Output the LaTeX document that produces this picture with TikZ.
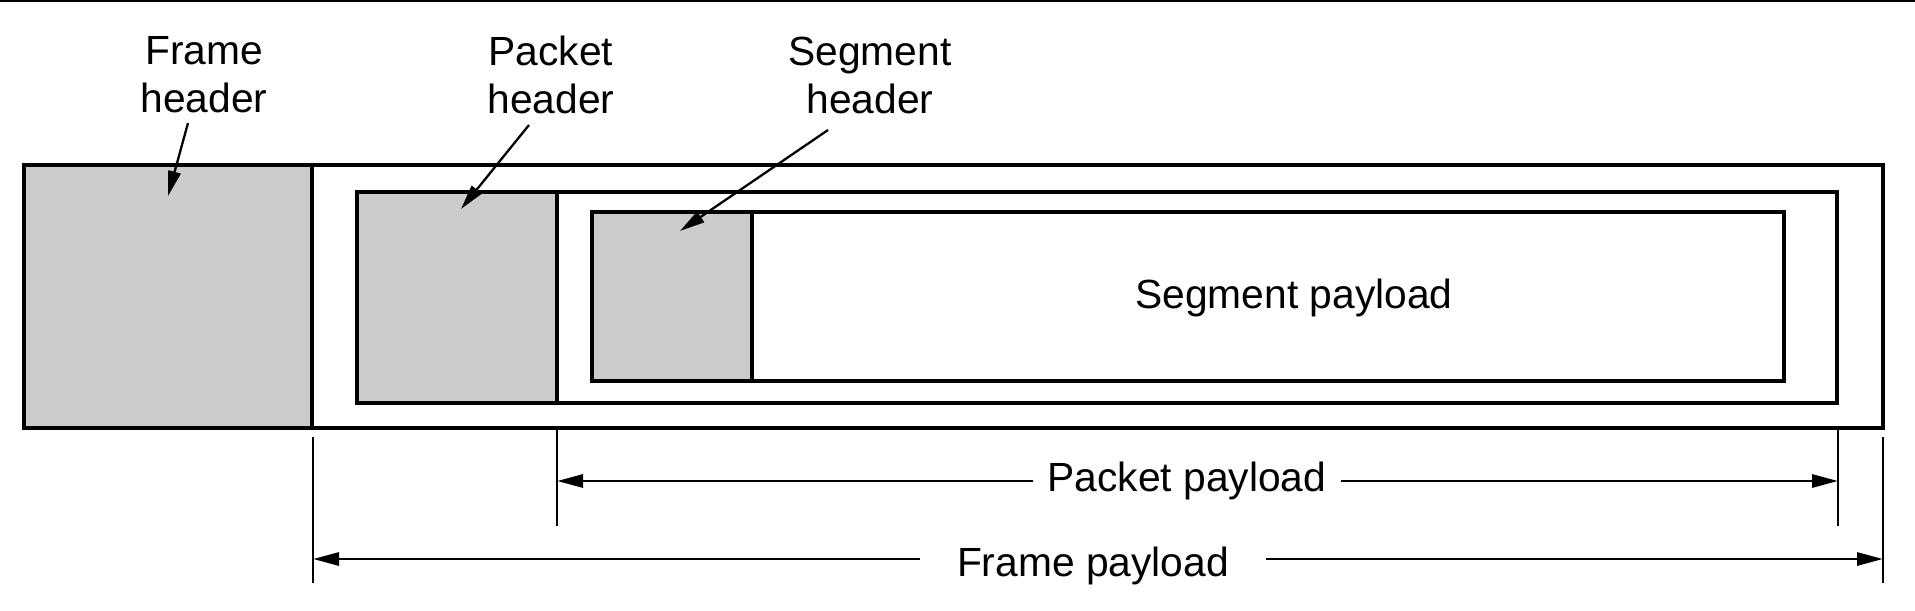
\documentclass[tikz,border=0pt]{standalone}
\usepackage{fontspec}
\setmainfont{Liberation Sans}
\usetikzlibrary{arrows.meta}
\definecolor{hdrgray}{RGB}{204,204,204}
\begin{document}
\begin{tikzpicture}[x=0.02cm,y=-0.02cm,
  every node/.style={font=\fontsize{23.2}{27.3}\selectfont, inner sep=0pt},
  box/.style={draw=black, line width=1.8pt},
  hdr/.style={fill=hdrgray, draw=black, line width=1.8pt},
  pointer/.style={-{Triangle[length=0.5cm,width=0.25cm]}, line width=1.3pt},
  dimarrow/.style={-{Triangle[length=0.52cm,width=0.26cm]}, line width=1.7pt},
  tickline/.style={line width=1.5pt}]
\useasboundingbox (0,0) rectangle (1915,611);
% top rule
\coordinate (topL) at (0,1);
\coordinate (topR) at (1915,1);
\draw[line width=1.1pt] (topL) -- (topR);

% frame
\draw[hdr] (24,165) rectangle (312,428);
\draw[box] (24,165) rectangle (1883,428);
% packet
\draw[hdr] (357,192) rectangle (557,403);
\draw[box] (357,192) rectangle (1837,403);
% segment
\draw[hdr] (592,212) rectangle (752,381);
\draw[box] (592,212) rectangle (1784,381);

\node[anchor=base] (spl) at (1294,308) {Segment payload};

% header labels
\node[align=center] (fhl) at (204,75) {Frame\\header};
\node[align=center] (phl) at (551,75) {Packet\\header};
\node[align=center] (shl) at (870,75) {Segment\\header};

\coordinate (fhs) at (188,123);
\coordinate (fhe) at (168,196);
\coordinate (phs) at (529,125);
\coordinate (phe) at (461,209);
\coordinate (shs) at (828,130);
\coordinate (she) at (680,231);
\draw[pointer] (fhs) -- (fhe);
\draw[pointer] (phs) -- (phe);
\draw[pointer] (shs) -- (she);

% packet payload dimension
\coordinate (pT1a) at (557,427);
\coordinate (pT1b) at (557,526);
\coordinate (pT2a) at (1838,427);
\coordinate (pT2b) at (1838,526);
\draw[tickline] (pT1a) -- (pT1b);
\draw[tickline] (pT2a) -- (pT2b);
\coordinate (pL) at (557,481);
\coordinate (pR) at (1838,481);
\node[inner xsep=0.28cm] (ppl) at (1187,481) {Packet payload};
\draw[dimarrow] (ppl.west) -- (pL);
\draw[dimarrow] (ppl.east) -- (pR);

% frame payload dimension
\coordinate (fT1a) at (313,437);
\coordinate (fT1b) at (313,583);
\coordinate (fT2a) at (1883,437);
\coordinate (fT2b) at (1883,583);
\draw[tickline] (fT1a) -- (fT1b);
\draw[tickline] (fT2a) -- (fT2b);
\coordinate (fL) at (313,559);
\coordinate (fR) at (1883,559);
\node[anchor=base, inner xsep=0.74cm] (fpl) at (1093,576) {Frame payload};
\draw[dimarrow] (fpl.west |- fL) -- (fL);
\draw[dimarrow] (fpl.east |- fR) -- (fR);
\end{tikzpicture}
\end{document}
